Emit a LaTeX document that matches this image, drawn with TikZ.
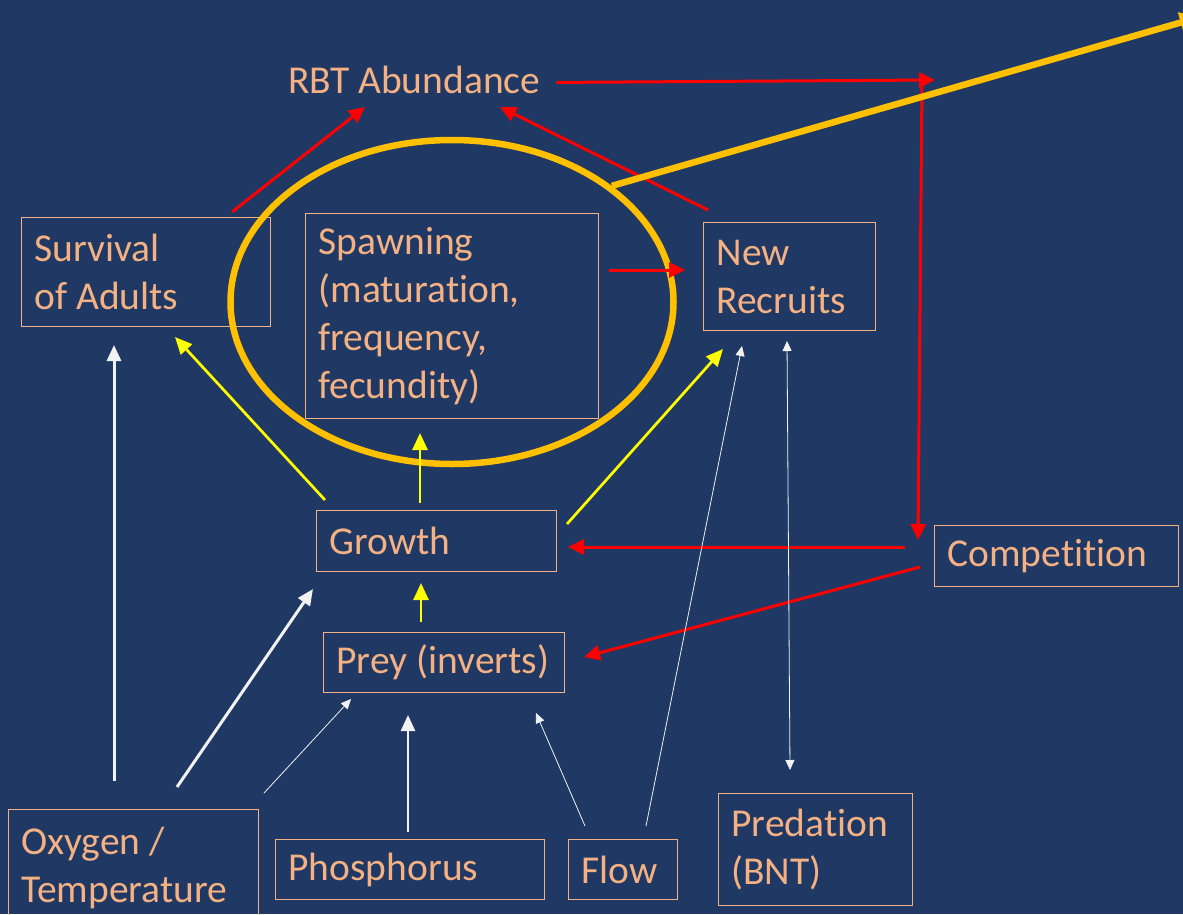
\documentclass[tikz,border=0pt]{standalone}
\usepackage{fontspec}
\setmainfont{Carlito}[Ligatures=NoCommon]
\usetikzlibrary{arrows.meta,calc,shapes.geometric}
\definecolor{bg}{HTML}{203864}
\definecolor{peach}{HTML}{F4B183}
\definecolor{gold}{HTML}{FFC000}
\definecolor{ylw}{HTML}{FFFF00}
\definecolor{rd}{HTML}{FF0000}
\definecolor{wht}{HTML}{F2F2F2}
\newcommand{\natsp}{\spaceskip=0.226em\relax\xspaceskip=0.3em\relax}
\begin{document}
\begin{tikzpicture}[x=1pt,y=-1pt,
  box/.style={draw=peach, line width=1pt, text=peach, align=left, inner xsep=13pt, inner ysep=0pt, anchor=north west, font=\fontsize{39.5}{48}\selectfont},
  redarr/.style={draw=rd, line width=3pt, -{Triangle[length=16pt,width=15pt]}},
  ylwarr/.style={draw=ylw, line width=2.7pt, -{Triangle[length=17pt,width=15pt]}},
  whtthick/.style={draw=wht, line width=3pt, -{Triangle[length=16pt,width=14pt]}},
  whtthin/.style={draw=wht, line width=0.8pt, -{Triangle[length=10pt,width=9pt]}},
  whtboth/.style={draw=wht, line width=0.8pt, {Triangle[length=10pt,width=9pt]}-{Triangle[length=10pt,width=9pt]}}
]
\useasboundingbox (0,0) rectangle (1183,914);
\fill[bg] (0,0) rectangle (1183,914);

% labels and boxes
\node[text=peach, inner sep=0pt, anchor=base west, font=\fontsize{39.5}{48}\selectfont] (rbt) at (288,93) {RBT Abundance};
\node[box, text width=223pt, minimum width=249pt, minimum height=109pt] (surv) at (21,217) {\natsp Survival\\of Adults};
\node[box, text width=267pt, minimum width=293pt, minimum height=205pt] (spawn) at (305,213) {\natsp Spawning\\(maturation,\\frequency,\\fecundity)};
\node[box, text width=146pt, minimum width=172pt, minimum height=108pt] (recr) at (703,222) {\natsp New\\Recruits};
\node[box, text width=214pt, minimum width=240pt, minimum height=61pt] (grow) at (316,510) {\natsp Growth};
\node[box, text width=215pt, minimum width=241pt, minimum height=60pt] (prey) at (323,632) {\natsp Prey (inverts)};
\node[box, text width=218pt, minimum width=244pt, minimum height=61pt] (comp) at (934,525) {\natsp Competition};
\node[box, text width=224pt, minimum width=250pt, minimum height=117pt] (oxy) at (8,809) {\natsp Oxygen /\\Temperature};
\node[box, text width=243pt, minimum width=269pt, minimum height=60pt] (phos) at (275,839) {\natsp Phosphorus};
\node[box, text width=83pt, minimum width=109pt, minimum height=60pt] (flow) at (568,839) {\natsp Flow};
\node[box, text width=168pt, minimum width=194pt, minimum height=112pt] (pred) at (718,793) {\natsp Predation\\(BNT)};

% highlight ring
\node[draw=gold, line width=6.5pt, ellipse, minimum width=443pt, minimum height=324pt, inner sep=0pt] (ring) at (452,302) {};
\coordinate (offpage) at (1200,17);
\coordinate (turn) at (935,80);

% red connectors
\draw[redarr] ($(surv.north west)+(211,-5)$) -- ($(rbt.base west)+(77,14)$);
\draw[redarr] ($(recr.north west)+(5,-12)$) -- ($(rbt.base west)+(212,14)$);
\draw[redarr] ($(rbt.east)+(16,3)$) -- (turn);
\draw[redarr] ($(turn)+(-13,1)$) -- ($(comp.north west)+(-16,15)$);
\draw[redarr] ($(spawn.north east)+(10,57)$) -- ($(recr.north west)+(-18,48)$);
\draw[redarr] ($(comp.north west)+(-29,22)$) -- ($(grow.north east)+(11,37)$);
\draw[redarr] ($(comp.north west)+(-14,42)$) -- ($(prey.north east)+(19,25)$);

% yellow connectors
\draw[ylwarr] ($(grow.north west)+(9,-10)$) -- ($(surv.south west)+(154,10)$);
\draw[ylwarr] ($(grow.north west)+(104,-7)$) -- ($(spawn.south west)+(115,14)$);
\draw[ylwarr] ($(grow.north east)+(10,14)$) -- ($(recr.south west)+(20,18)$);
\draw[ylwarr] ($(prey.north west)+(98,-10)$) -- ($(grow.south west)+(105,11)$);

% white connectors
\draw[whtthick] ($(oxy.north west)+(106,-28)$) -- ($(surv.south west)+(93,18)$);
\draw[whtthick] ($(oxy.north west)+(169,-22)$) -- ($(grow.south west)+(-3,17)$);
\draw[whtthin] ($(oxy.north east)+(5,-16)$) -- ($(prey.south west)+(28,6)$);
\draw[whtthick, line width=2.5pt] ($(phos.north west)+(133,-7)$) -- ($(prey.south west)+(85,22)$);
\draw[whtthin] ($(flow.north west)+(17,-13)$) -- ($(prey.south east)+(-29,20)$);
\draw[whtthin] ($(flow.north west)+(78,-13)$) -- ($(recr.south west)+(39,15)$);
\draw[whtboth] ($(recr.south west)+(84,10)$) -- ($(pred.north west)+(72,-23)$);

% pointer to off-page
\draw[gold, line width=6.5pt, -{Triangle[length=20pt,width=20pt]}] (ring.36) -- (offpage);
\end{tikzpicture}
\end{document}
